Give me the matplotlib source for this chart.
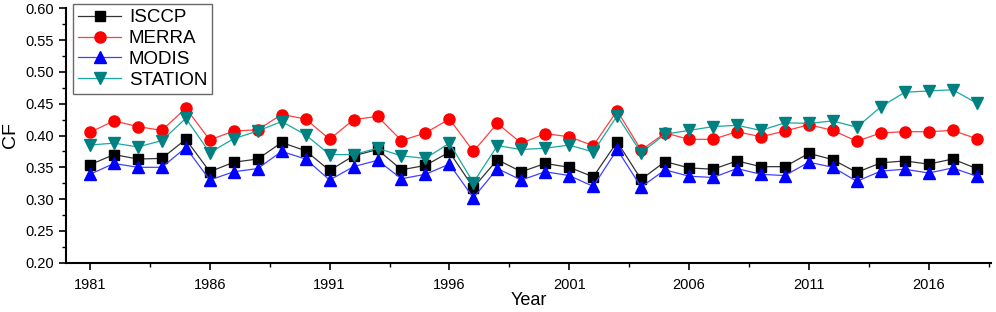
import matplotlib
matplotlib.use('Agg')
import matplotlib.pyplot as plt
from matplotlib.ticker import MultipleLocator, FixedLocator, FormatStrFormatter
import numpy as np

# yearly cloud fraction
years = np.arange(1981, 2019)
isccp = [0.354, 0.370, 0.363, 0.364, 0.394, 0.343, 0.358, 0.363, 0.389, 0.376,
         0.345, 0.368, 0.378, 0.346, 0.353, 0.374, 0.318, 0.362, 0.343, 0.356,
         0.350, 0.335, 0.390, 0.331, 0.359, 0.349, 0.347, 0.360, 0.351, 0.351,
         0.372, 0.362, 0.342, 0.357, 0.360, 0.355, 0.363, 0.348]
merra = [0.405, 0.423, 0.414, 0.408, 0.443, 0.393, 0.407, 0.409, 0.433, 0.426,
         0.394, 0.425, 0.430, 0.392, 0.404, 0.426, 0.375, 0.419, 0.388, 0.403,
         0.398, 0.384, 0.439, 0.377, 0.404, 0.394, 0.394, 0.406, 0.398, 0.407,
         0.417, 0.408, 0.391, 0.404, 0.406, 0.406, 0.408, 0.395]
modis = [0.339, 0.356, 0.350, 0.350, 0.381, 0.330, 0.343, 0.348, 0.375, 0.363,
         0.330, 0.351, 0.361, 0.332, 0.339, 0.355, 0.302, 0.348, 0.330, 0.343,
         0.337, 0.320, 0.378, 0.319, 0.346, 0.336, 0.334, 0.348, 0.339, 0.337,
         0.358, 0.350, 0.328, 0.344, 0.347, 0.341, 0.349, 0.336]
station = [0.385, 0.388, 0.382, 0.392, 0.427, 0.373, 0.395, 0.407, 0.422, 0.401,
           0.370, 0.370, 0.380, 0.368, 0.364, 0.388, 0.326, 0.384, 0.378, 0.380,
           0.385, 0.374, 0.431, 0.373, 0.402, 0.408, 0.414, 0.416, 0.408, 0.420,
           0.419, 0.423, 0.413, 0.445, 0.468, 0.470, 0.472, 0.451]

plt.rcParams['font.family'] = ['Liberation Sans', 'DejaVu Sans']

fig = plt.figure(figsize=(9.96, 3.12), dpi=100)
ax = fig.add_axes([66/996, 1 - 262.7/312, (991 - 66)/996, (262.7 - 8.3)/312])

ax.plot(years, isccp, color='#333333', lw=0.9, marker='s', ms=7,
        mfc='black', mec='black', label='ISCCP')
ax.plot(years, merra, color='#ff4040', lw=0.9, marker='o', ms=8,
        mfc='red', mec='red', label='MERRA')
ax.plot(years, modis, color='#4040ff', lw=0.9, marker='^', ms=8.5,
        mfc='blue', mec='blue', label='MODIS')
ax.plot(years, station, color='#1aa8a0', lw=0.9, marker='v', ms=8.5,
        mfc='#008080', mec='#008080', label='STATION')

ax.set_xlim(1980, 2018.6)
ax.set_ylim(0.2, 0.6)
ax.set_xticks(np.arange(1981, 2017, 5))
ax.xaxis.set_minor_locator(FixedLocator(np.arange(1983.5, 2019, 5)))
ax.yaxis.set_major_locator(MultipleLocator(0.05))
ax.yaxis.set_minor_locator(MultipleLocator(0.025))
ax.yaxis.set_major_formatter(FormatStrFormatter('%.2f'))

for s in ['top', 'right']:
    ax.spines[s].set_visible(False)
for s in ['left', 'bottom']:
    ax.spines[s].set_linewidth(1.5)
ax.tick_params(which='major', direction='out', length=5, width=1.2, labelsize=10.5)
ax.tick_params(axis='x', which='major', pad=6)
ax.tick_params(which='minor', direction='out', length=3, width=1.0)

ax.set_xlabel('Year', fontsize=13, labelpad=0)
ax.set_ylabel('CF', fontsize=14, labelpad=5)

leg = ax.legend(loc='upper left', bbox_to_anchor=(0.004, 1.03), fontsize=13.5,
                frameon=True, fancybox=False, borderpad=0.25, labelspacing=0.2,
                handlelength=2.3, handletextpad=0.4, borderaxespad=0.2)
leg.get_frame().set_edgecolor('#444444')
leg.get_frame().set_linewidth(1.0)

fig.savefig('out.png', dpi=100)
